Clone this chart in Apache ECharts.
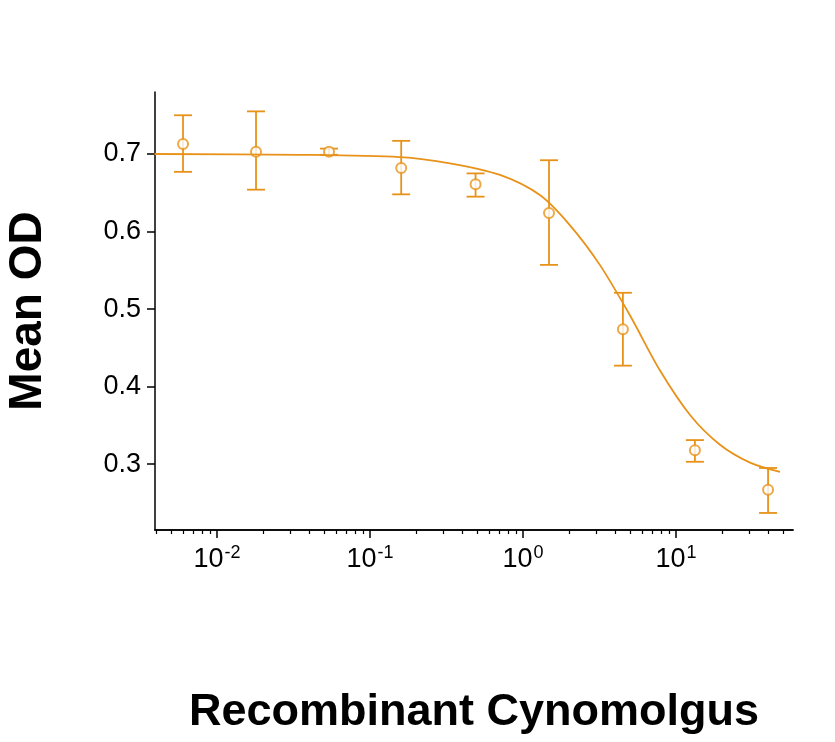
<!DOCTYPE html>
<html><head><meta charset="utf-8">
<script src="https://cdn.jsdelivr.net/npm/echarts@6/dist/echarts.min.js"></script>
<style>html,body{margin:0;background:#fff}#c{width:835px;height:742px}</style>
</head><body><div id="c"></div>
<script>
var conc = [0.006, 0.018, 0.054, 0.16, 0.49, 1.48, 4.5, 13.3, 40];
var meanOD = [0.713, 0.703, 0.703, 0.682, 0.661, 0.624, 0.474, 0.318, 0.267];
var errLow = [0.677, 0.654, 0.699, 0.648, 0.645, 0.557, 0.427, 0.303, 0.237];
var errHigh = [0.750, 0.755, 0.707, 0.717, 0.675, 0.692, 0.521, 0.331, 0.295];
var fitX = [0.0039, 0.0348, 0.157, 0.333, 0.708, 1.29, 2.03, 3.18, 5.0, 7.85, 12.4, 19.4, 30.5, 47.9];
var fitY = [0.700, 0.699, 0.696, 0.688, 0.673, 0.647, 0.608, 0.557, 0.492, 0.421, 0.363, 0.325, 0.302, 0.290];
var majorTicks = [-2, -1, 0, 1];
var yTicks = [0.3, 0.4, 0.5, 0.6, 0.7];

var color = '#E8921A';
var minorTicks = [];
[-3, -2, -1, 0, 1].forEach(function (d) {
  for (var k = 2; k <= 9; k++) {
    var v = d + Math.log10(k);
    if (v > -2.405 && v < 1.765) minorTicks.push(v);
  }
});
var lg = function (v) { return Math.log10(v); };
var chart = echarts.init(document.getElementById('c'));
var xBase = {
  type: 'value', position: 'bottom', min: -2.405, max: 1.765, splitLine: { show: false },
  axisLine: { onZero: false, lineStyle: { color: '#000', width: 1.5 } }
};
chart.setOption({
  animation: false,
  grid: { left: 155, top: 92, right: 42, bottom: 212, outerBoundsMode: 'none', containLabel: false },
  xAxis: [
    Object.assign({}, xBase, {
      axisTick: { customValues: majorTicks, length: 8, lineStyle: { color: '#000', width: 1.5 } },
      axisLabel: {
        customValues: majorTicks, margin: 14, color: '#000',
        formatter: function (v) { return '{b|10}{s|' + v + '}'; },
        rich: { b: { fontSize: 27, fontFamily: 'Liberation Sans' }, s: { fontSize: 18, fontFamily: 'Liberation Sans', padding: [0, 0, 14, 1] } }
      },
      name: 'Recombinant Cynomolgus\nMonkey VSIG4 (\u03bcg/mL)', nameLocation: 'middle', nameGap: 152,
      nameTextStyle: { fontSize: 45, fontWeight: 'bold', fontFamily: 'Liberation Sans', color: '#000', lineHeight: 61 }
    }),
    Object.assign({}, xBase, {
      axisTick: { customValues: minorTicks, length: 4, lineStyle: { color: '#000', width: 1.2 } },
      axisLabel: { show: false }
    })
  ],
  yAxis: {
    type: 'value', min: 0.215, max: 0.78, splitLine: { show: false },
    axisLine: { show: true, onZero: false, lineStyle: { color: '#000', width: 1.5 } },
    axisTick: { show: true, customValues: yTicks, length: 8, lineStyle: { color: '#000', width: 1.5 } },
    axisLabel: { customValues: yTicks, margin: 14, fontSize: 27, color: '#000', fontFamily: 'Liberation Sans', formatter: function (v) { return v.toFixed(1); } },
    name: 'Mean OD', nameLocation: 'middle', nameGap: 104,
    nameTextStyle: { fontSize: 46, fontWeight: 'bold', fontFamily: 'Liberation Sans', color: '#000' }
  },
  series: [
    {
      type: 'line', smooth: 0.3, showSymbol: false, lineStyle: { color: color, width: 1.8 },
      data: fitX.map(function (x, i) { return [lg(x), fitY[i]]; })
    },
    {
      type: 'custom',
      renderItem: function (params, api) {
        var lo = api.coord([api.value(0), api.value(1)]);
        var hi = api.coord([api.value(0), api.value(2)]);
        var w = 9, st = { stroke: color, lineWidth: 1.8 };
        return { type: 'group', children: [
          { type: 'line', shape: { x1: lo[0], y1: lo[1], x2: hi[0], y2: hi[1] }, style: st },
          { type: 'line', shape: { x1: lo[0] - w, y1: lo[1], x2: lo[0] + w, y2: lo[1] }, style: st },
          { type: 'line', shape: { x1: hi[0] - w, y1: hi[1], x2: hi[0] + w, y2: hi[1] }, style: st }
        ] };
      },
      data: conc.map(function (x, i) { return [lg(x), errLow[i], errHigh[i]]; })
    },
    {
      type: 'scatter', symbol: 'emptyCircle', symbolSize: 10,
      itemStyle: { color: color, borderColor: color, borderWidth: 1.8 },
      data: conc.map(function (x, i) { return [lg(x), meanOD[i]]; })
    }
  ]
});
</script></body></html>
